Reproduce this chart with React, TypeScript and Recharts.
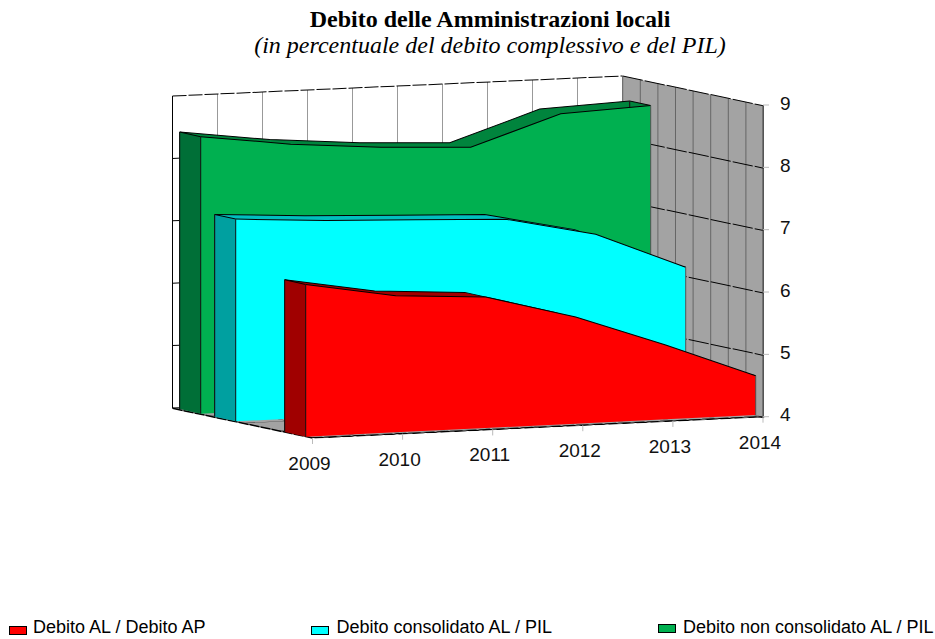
import { AreaChart, Area, XAxis, YAxis, CartesianGrid, ReferenceLine, LineChart } from 'recharts';

const years = [2009, 2010, 2011, 2012, 2013, 2014];
const debitoAlAp = [6.44, 6.19, 6.1, 5.71, 5.19, 4.63];
const consolidatoPil = [7.24, 7.15, 7.09, 7.03, 6.72, 6.12];
const nonConsolidatoPil = [8.44, 8.25, 8.13, 8.06, 8.53, 8.59];
const valueTicks = [4, 5, 6, 7, 8, 9];
const backWallTicks = [0, 1, 2, 3, 4, 5, 6, 7, 8, 9, 10];
const sideWallTicks = [0, 1, 2, 3, 4, 5, 6, 7, 8];
const depthTicks = [0, 1, 2, 3, 4];
const legendLabels = ['Debito AL / Debito AP', 'Debito consolidato AL / PIL', 'Debito non consolidato AL / PIL'];

const SANS = '"Liberation Sans", Arial, sans-serif';
const SERIF = '"Liberation Serif", "Times New Roman", serif';
const PAD = 3;
const WALL_H = 312;
const YEAR_W = 450; // five years across the plane
const SLOPE = -21.7 / 450; // the parallel projection tilts the year direction
const DEPTH = { dx: 21, dy: 4.6 };

// Every face is a small chart of its own, sheared into place with a css matrix
function Plane({ w, h, tl, b = 0, c = 0, d = 1, data, children }: any) {
  const e = tl[0] - PAD - c * PAD;
  const f = tl[1] - b * PAD - d * PAD;
  return (
    <div
      style={{
        position: 'absolute',
        left: 0,
        top: 0,
        transformOrigin: '0 0',
        transform: `matrix(1,${b},${c},${d},${e},${f})`,
      }}
    >
      <AreaChart
        width={w + PAD * 2}
        height={h + PAD * 2}
        data={data}
        margin={{ top: PAD, right: PAD, bottom: PAD, left: PAD }}
      >
        {children}
      </AreaChart>
    </div>
  );
}

function yearFace(values: number[], x0: number, y0: number, fill: string) {
  const rows = years.map((year, i) => ({ year, value: values[i] }));
  return (
    <Plane w={YEAR_W} h={WALL_H} tl={[x0, y0 - WALL_H]} b={SLOPE} data={rows}>
      <XAxis dataKey="year" type="number" domain={[2009, 2014]} hide />
      <YAxis domain={[4, 9]} hide />
      <Area
        dataKey="value"
        type="linear"
        fill={fill}
        fillOpacity={1}
        stroke="#000"
        strokeWidth={1}
        isAnimationActive={false}
        dot={false}
      />
      <ReferenceLine
        segment={[
          { x: 2009, y: 4 },
          { x: 2009, y: values[0] },
        ]}
        stroke="#111"
      />
      <ReferenceLine
        segment={[
          { x: 2014, y: 4 },
          { x: 2014, y: values[5] },
        ]}
        stroke="#555"
      />
    </Plane>
  );
}

function depthFace(value: number, x0: number, y0: number, fill: string) {
  const rows = [
    { depth: 0, value },
    { depth: 1, value },
  ];
  return (
    <Plane w={DEPTH.dx} h={WALL_H} tl={[x0 - DEPTH.dx, y0 - DEPTH.dy - WALL_H]} b={DEPTH.dy / DEPTH.dx} data={rows}>
      <XAxis dataKey="depth" type="number" domain={[0, 1]} hide />
      <YAxis domain={[4, 9]} hide />
      <Area
        dataKey="value"
        type="linear"
        fill={fill}
        fillOpacity={1}
        stroke="#000"
        strokeWidth={1}
        isAnimationActive={false}
        dot={false}
      />
      <ReferenceLine
        segment={[
          { x: 0, y: 4 },
          { x: 0, y: value },
        ]}
        stroke="#111"
      />
    </Plane>
  );
}

// back copy, both end faces, then the front face
function Solid({ values, x0, y0, front, side, top }: any) {
  const endX = x0 + YEAR_W;
  const endY = y0 + YEAR_W * SLOPE;
  return (
    <>
      {yearFace(values, x0 - DEPTH.dx, y0 - DEPTH.dy, top)}
      {depthFace(values[5], endX, endY, top)}
      {depthFace(values[0], x0, y0, side)}
      {yearFace(values, x0, y0, front)}
    </>
  );
}

function YearTick({ x, y, payload }: any) {
  const drop = (762.5 - x) * 0.0473;
  return (
    <g>
      <line x1={x} x2={x} y1={y - 8 + drop} y2={y - 2 + drop} stroke="#bbb" />
      <text x={x - 3} y={y + 24 + drop} textAnchor="middle" fontSize={19} fontFamily={SANS} fill="#111">
        {payload.value}
      </text>
    </g>
  );
}

export default function App() {
  const axisRows = years.map((year) => ({ year }));
  return (
    <div style={{ position: 'absolute', left: 0, top: 0, width: 935, height: 639, overflow: 'hidden', background: '#fff' }}>
      {/* back wall */}
      <Plane w={450} h={WALL_H} tl={[172.5, 96]} b={-0.0444} data={[{ t: 0 }, { t: 10 }]}>
        <XAxis dataKey="t" type="number" domain={[0, 10]} ticks={backWallTicks} interval={0} hide />
        <YAxis domain={[4, 9]} ticks={valueTicks} allowDataOverflow hide />
        <CartesianGrid horizontal={false} stroke="#999" />
        <CartesianGrid vertical={false} stroke="#000" strokeDasharray="14 2" />
        <ReferenceLine x={0} stroke="#000" />
      </Plane>

      {/* right wall */}
      <Plane w={140.8} h={WALL_H} tl={[622.7, 76]} b={0.2116} data={[{ t: 0 }, { t: 8 }]}>
        <XAxis dataKey="t" type="number" domain={[0, 8]} ticks={sideWallTicks} interval={0} hide />
        <YAxis domain={[4, 9]} ticks={valueTicks} allowDataOverflow hide />
        <CartesianGrid horizontal={false} stroke="#666" fill="#A3A3A3" fillOpacity={1} />
        <CartesianGrid vertical={false} stroke="#000" strokeDasharray="20 2" />
      </Plane>

      {/* floor */}
      <Plane w={450} h={140} tl={[172.5, 408.3]} b={-0.0473} c={1} d={0.212} data={[{ t: 0 }, { t: 10 }]}>
        <XAxis dataKey="t" type="number" domain={[0, 10]} ticks={backWallTicks} interval={0} hide />
        <YAxis domain={[0, 8]} ticks={sideWallTicks} allowDataOverflow hide />
        <CartesianGrid stroke="#222" fill="#A3A3A3" fillOpacity={1} />
        <ReferenceLine y={0} stroke="#000" strokeWidth={6} strokeDasharray="12 2" />
      </Plane>

      {/* depth ticks under the floor's left edge */}
      <Plane w={140} h={16} tl={[172.5, 400.3]} b={0.212} data={[{ t: 0 }, { t: 4 }]}>
        <XAxis
          dataKey="t"
          type="number"
          domain={[0, 4]}
          ticks={depthTicks}
          interval={0}
          height={8}
          tick={false}
          tickSize={6}
          axisLine={{ stroke: '#000', strokeWidth: 1.5, strokeDasharray: '10 1' }}
          tickLine={{ stroke: '#aaa' }}
        />
        <YAxis domain={[0, 1]} allowDataOverflow hide />
      </Plane>

      <Solid values={nonConsolidatoPil} x0={200.7} y0={413.7} front="#00B050" side="#006F37" top="#00843D" />
      <Solid values={consolidatoPil} x0={235.7} y0={421.3} front="#00FFFF" side="#00A0A0" top="#00BFBF" />
      <Solid values={debitoAlAp} x0={305.7} y0={436.7} front="#FF0000" side="#A00000" top="#A00000" />

      {/* axis labels */}
      <div style={{ position: 'absolute', left: 0, top: 0 }}>
        <LineChart
          width={935}
          height={500}
          data={axisRows}
          margin={{ top: 105, right: 112, bottom: 0, left: 312.5 }}
        >
          <XAxis
            dataKey="year"
            type="number"
            domain={[2009, 2014]}
            ticks={years}
            interval={0}
            height={83.3}
            axisLine={false}
            tickLine={false}
            tick={<YearTick />}
          />
          <YAxis
            orientation="right"
            width={60}
            domain={[4, 9]}
            ticks={valueTicks}
            interval={0}
            allowDataOverflow
            tickSize={6}
            tickMargin={11}
            axisLine={{ stroke: '#444' }}
            tickLine={{ stroke: '#bbb' }}
            tick={{ fontSize: 19, fontFamily: SANS, fill: '#111', dy: -2 }}
          />
        </LineChart>
      </div>

      <div
        style={{
          position: 'absolute',
          left: 45,
          width: 890,
          top: 5.6,
          textAlign: 'center',
          fontFamily: SERIF,
          color: '#000',
        }}
      >
        <div style={{ fontWeight: 700, fontSize: 24, lineHeight: '26px' }}>
          Debito delle Amministrazioni locali
        </div>
        <div style={{ fontStyle: 'italic', fontSize: 24, lineHeight: '26px' }}>
          (in percentuale del debito complessivo e del PIL)
        </div>
      </div>

      {legendLabels.map((label, i) => (
        <div key={label}>
          <div
            style={{
              position: 'absolute',
              left: [8.5, 311, 658][i],
              top: [626, 626, 624][i],
              width: 16,
              height: 7,
              border: '1.5px solid #000',
              background: ['#FF0000', '#00FFFF', '#00B050'][i],
            }}
          />
          <div
            style={{
              position: 'absolute',
              left: [33, 336.5, 683][i],
              top: 617,
              fontFamily: SANS,
              fontSize: 18,
              lineHeight: '20px',
              color: '#000',
              whiteSpace: 'nowrap',
            }}
          >
            {label}
          </div>
        </div>
      ))}
    </div>
  );
}
